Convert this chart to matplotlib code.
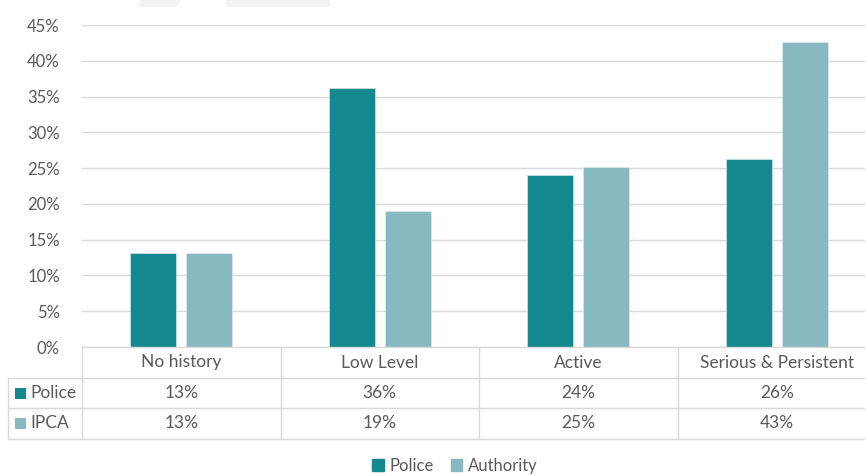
import matplotlib.pyplot as plt
from matplotlib.lines import Line2D
from matplotlib.patches import Rectangle, Polygon
from matplotlib.ticker import PercentFormatter

# Share of cases by offending history
categories = ['No history', 'Low Level', 'Active', 'Serious & Persistent']
police = [13.2, 36.2, 24.0, 26.3]
authority = [13.2, 19.0, 25.1, 42.6]
table_rows = ['Police', 'IPCA']
legend_labels = ['Police', 'Authority']

POLICE_COLOR = '#14888F'
AUTH_COLOR = '#88B9C0'
GRID = '#D9D9D9'
TEXT = '#595959'

plt.rcParams['font.family'] = ['Lato', 'DejaVu Sans']

W, H = 865, 476
fig = plt.figure(figsize=(W / 100, H / 100), dpi=100)


def fx(px):
    return px / W


def fy(py):
    return 1 - py / H


# plot area in pixel space (runs a little past the right edge)
left, right, top, bottom = 82, 876, 25, 347
ax = fig.add_axes([fx(left), fy(bottom), fx(right - left), fy(top) - fy(bottom)])

# faint banner shapes at the very top
for pts in ([(140, 0), (181, 0), (176, 7), (138, 7)],
            [(226, 0), (330, 0), (330, 7), (226, 7)]):
    fig.patches.append(Polygon([(fx(x), fy(y)) for x, y in pts], closed=True,
                               transform=fig.transFigure, color='#F3F3F3', lw=0))

x = list(range(len(categories)))
bw = 0.232
off = 0.14
ax.bar([i - off for i in x], police, width=bw, color=POLICE_COLOR,
       edgecolor='#E6F0F1', linewidth=0.4, zorder=3)
ax.bar([i + off for i in x], authority, width=bw, color=AUTH_COLOR,
       edgecolor='#E6F0F1', linewidth=0.4, zorder=3)

ax.set_xlim(-0.5, len(categories) - 0.5)
ax.set_ylim(0, 45)
ax.set_yticks(range(0, 46, 5))
ax.yaxis.set_major_formatter(PercentFormatter(decimals=0))
ax.set_xticks([])
ax.tick_params(axis='y', length=0, pad=16, labelsize=12, labelcolor=TEXT)
ax.grid(axis='y', color=GRID, linewidth=1, zorder=0)
for s in ax.spines.values():
    s.set_visible(False)

# data table underneath
col_w = (right - left) / len(categories)
rows_y = [347, 378, 408, 439]
line_kw = dict(color=GRID, linewidth=1, transform=fig.transFigure)

fig.add_artist(Line2D([fx(left), fx(right)], [fy(rows_y[0])] * 2, **line_kw))
for ry in rows_y[1:]:
    fig.add_artist(Line2D([fx(8), fx(right)], [fy(ry)] * 2, **line_kw))
fig.add_artist(Line2D([fx(8), fx(8)], [fy(rows_y[1]), fy(rows_y[3])], **line_kw))
for i in range(len(categories) + 1):
    cx = left + i * col_w
    fig.add_artist(Line2D([fx(cx), fx(cx)], [fy(rows_y[0]), fy(rows_y[3])], **line_kw))

txt_kw = dict(fontsize=12.5, color=TEXT, ha='center', va='center')
for i, cat in enumerate(categories):
    cx = left + (i + 0.5) * col_w
    fig.text(fx(cx), fy((rows_y[0] + rows_y[1]) / 2), cat, **txt_kw)
    fig.text(fx(cx), fy((rows_y[1] + rows_y[2]) / 2), f'{police[i]:.0f}%', **txt_kw)
    fig.text(fx(cx), fy((rows_y[2] + rows_y[3]) / 2), f'{authority[i]:.0f}%', **txt_kw)

for r, (name, col) in enumerate(zip(table_rows, [POLICE_COLOR, AUTH_COLOR])):
    cy = (rows_y[r + 1] + rows_y[r + 2]) / 2
    fig.patches.append(Rectangle((fx(15), fy(cy + 5.5)), fx(11), fy(0) - fy(11),
                                 transform=fig.transFigure, color=col, lw=0))
    fig.text(fx(30), fy(cy), name, fontsize=12.5, color=TEXT, ha='left', va='center')

# legend at the bottom edge
handles = [Rectangle((0, 0), 1, 1, color=POLICE_COLOR),
           Rectangle((0, 0), 1, 1, color=AUTH_COLOR)]
fig.legend(handles, legend_labels, loc='center', ncol=2, frameon=False,
           bbox_to_anchor=(fx(455), fy(466)), fontsize=12, labelcolor=TEXT,
           handlelength=0.7, handleheight=0.7, handletextpad=0.35,
           columnspacing=1.0, borderpad=0)

fig.savefig('out.png', dpi=100)
